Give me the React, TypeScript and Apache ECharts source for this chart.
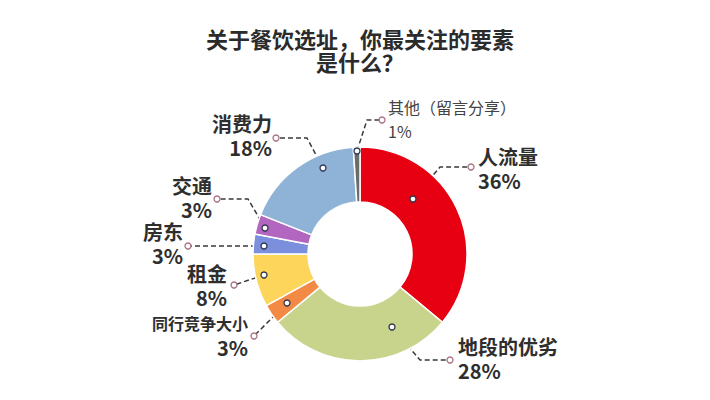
import React, { useEffect, useRef } from "react";
import * as echarts from "echarts";

const TITLE = "关于餐饮选址，你最关注的要素\n是什么？";
const categories = ["人流量", "地段的优劣", "同行竞争大小", "租金", "房东", "交通", "消费力", "其他（留言分享）"];
const values = [36, 28, 3, 8, 3, 3, 18, 1];
const colors = ["#e60012", "#c8d48c", "#f28a45", "#fcd55a", "#7b8fdd", "#b366bf", "#8fb3d6", "#6b6b6b"];

// label block layout: [x, y(middle), align]
const LABEL_POS: [number, number, "left" | "right"][] = [
  [478, 168, "left"],
  [458, 358, "left"],
  [248, 335, "right"],
  [227, 285, "right"],
  [183, 243, "right"],
  [212, 197, "right"],
  [272, 135, "right"],
  [388, 119, "left"],
];

// leader lines: anchor on slice, bend, end
const LEADERS: number[][][] = [
  [[413, 199], [440, 167], [471, 167]],
  [[392, 327], [420, 360], [450, 360]],
  [[287, 303], [270, 320], [254, 336]],
  [[264, 275], [249, 280], [234, 285]],
  [[264, 246], [226, 246], [188, 246]],
  [[265, 228], [248, 199], [217, 199]],
  [[323, 168], [307, 138], [276, 138]],
  [[357, 151], [367, 120], [382, 120]],
];

const FONT = '"Noto Sans CJK SC", "Noto Sans", sans-serif';

export default function App() {
  const ref = useRef<HTMLDivElement>(null);
  useEffect(() => {
    const chart = echarts.init(ref.current!, null, { renderer: "svg" });
    const circles: any[] = [];
    LEADERS.forEach((pts) => {
      circles.push({
        type: "circle",
        z: 100,
        shape: { cx: pts[0][0], cy: pts[0][1], r: 3 },
        style: { fill: "#fff", stroke: "#2c3550", lineWidth: 1.3 },
      });
      circles.push({
        type: "circle",
        z: 100,
        shape: { cx: pts[2][0], cy: pts[2][1], r: 3 },
        style: { fill: "#fff", stroke: "#a87080", lineWidth: 1.3 },
      });
    });
    chart.setOption({
      animation: false,
      backgroundColor: "#fff",
      textStyle: { fontFamily: FONT },
      title: {
        text: TITLE,
        left: 360,
        top: 26,
        padding: 0,
        textAlign: "center",
        textStyle: {
          fontFamily: FONT,
          fontSize: 22,
          lineHeight: 23,
          fontWeight: "bold",
          color: "#2b2b2b",
        },
      },
      graphic: circles,
      series: [
        {
          type: "pie",
          center: [360, 254],
          radius: [52, 107],
          startAngle: 90,
          clockwise: true,
          itemStyle: { borderColor: "#fff", borderWidth: 1.5 },
          label: {
            show: true,
            position: "outside",
            formatter: (p: any) => {
              if (p.dataIndex === 7) return `{o|${p.name}}\n{o|${p.value}%}`;
              if (p.dataIndex === 2) return `{s|${p.name}}\n{v|${p.value}%}`;
              return `{n|${p.name}}\n{v|${p.value}%}`;
            },
            rich: {
              n: { fontFamily: FONT, fontSize: 20, fontWeight: "bold", color: "#2e2e2e", lineHeight: 24 },
              v: { fontFamily: FONT, fontSize: 20, fontWeight: "bold", color: "#2e2e2e", lineHeight: 24 },
              s: { fontFamily: FONT, fontSize: 16, fontWeight: "bold", color: "#2e2e2e", lineHeight: 25 },
              o: { fontFamily: FONT, fontSize: 16, fontWeight: "normal", color: "#444", lineHeight: 24 },
            },
          },
          labelLine: {
            show: true,
            lineStyle: { type: [5, 3], color: "#3a3a3a", width: 1.5 },
          },
          labelLayout: (params: any) => {
            const i = params.dataIndex;
            const [x, y, align] = LABEL_POS[i];
            return {
              x,
              y,
              align,
              verticalAlign: "middle",
              labelLinePoints: LEADERS[i],
            };
          },
          data: categories.map((name, i) => ({
            name,
            value: values[i],
            itemStyle: { color: colors[i] },
          })),
        },
      ],
    });
    return () => chart.dispose();
  }, []);
  return (
    <div
      ref={ref}
      style={{ position: "fixed", left: 0, top: 0, width: 710, height: 400 }}
    />
  );
}
